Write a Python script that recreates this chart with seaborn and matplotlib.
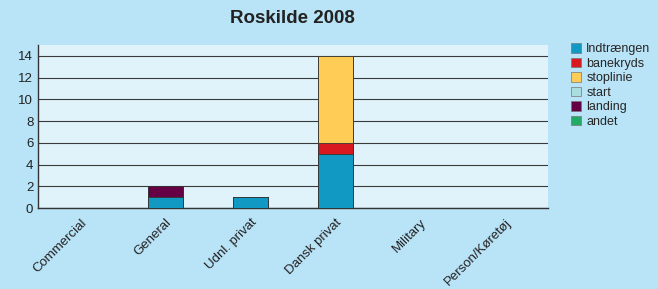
import numpy as np
import pandas as pd
import matplotlib
matplotlib.use("Agg")
import matplotlib.pyplot as plt
import matplotlib.transforms as mtransforms
from matplotlib.patches import Patch
import seaborn as sns

categories = ["Commercial", "General", "Udnl. privat", "Dansk privat", "Military", "Person/Køretøj"]
series_names = ["Indtrængen", "banekryds", "stoplinie", "start", "landing", "andet"]
indtraengen = [0, 1, 1, 5, 0, 0]
banekryds = [0, 0, 0, 1, 0, 0]
stoplinie = [0, 0, 0, 8, 0, 0]
start = [0, 0, 0, 0, 0, 0]
landing = [0, 1, 0, 0, 0, 0]
andet = [0, 0, 0, 0, 0, 0]

colors = ["#1199C4", "#D81920", "#FFCC55", "#AADDDD", "#660044", "#22AA66"]

sns.set_style("white")
plt.rcParams["font.family"] = ["Liberation Sans", "DejaVu Sans"]

df = pd.DataFrame({"category": categories, "Indtrængen": indtraengen,
                   "banekryds": banekryds, "stoplinie": stoplinie,
                   "start": start, "landing": landing, "andet": andet})
cum = df[series_names].cumsum(axis=1)

fig = plt.figure(figsize=(6.58, 2.89), dpi=100)
fig.patch.set_facecolor("#B9E3F7")
ax = fig.add_axes([0.058, 0.280, 0.775, 0.564])
ax.set_facecolor("#E0F3FB")

# stacked bars: draw cumulative totals from the top series down
for name, col in reversed(list(zip(series_names, colors))):
    sns.barplot(x=df["category"], y=cum[name], color=col, saturation=1, width=0.41,
                edgecolor="#333333", linewidth=0.6, ax=ax, zorder=3)

ax.set_ylim(0, 15)
ax.set_yticks(range(0, 15, 2))
ax.set_xlim(-0.5, len(categories) - 0.5)
ax.grid(axis="y", color="#3a3a3a", linewidth=0.8, zorder=0)
ax.set_axisbelow(True)
for s in ["top", "right"]:
    ax.spines[s].set_visible(False)
for s in ["left", "bottom"]:
    ax.spines[s].set_color("#333333")
    ax.spines[s].set_linewidth(1.0)

ax.set_xticks(range(len(categories)))
ax.set_xticklabels(categories, rotation=45, ha="right", rotation_mode="anchor", fontsize=9.5, color="#222222")
shift = mtransforms.ScaledTranslation(-4 / 100, -2 / 100, fig.dpi_scale_trans)
for lbl in ax.get_xticklabels():
    lbl.set_transform(lbl.get_transform() + shift)
ax.set_xticks(np.arange(-0.5, len(categories)), minor=True)
ax.tick_params(axis="x", which="major", length=0, pad=6)
ax.tick_params(axis="x", which="minor", length=4, width=1, color="#333333", direction="out")
ax.tick_params(axis="y", length=5, width=1, color="#333333", direction="inout", labelsize=9.5,
               labelcolor="#222222", pad=1)
ax.set_xlabel("")
ax.set_ylabel("")

fig.text(0.445, 0.935, "Roskilde 2008", ha="center", va="center", fontsize=13.5, fontweight="bold", color="#222222")

handles = [Patch(facecolor=c, edgecolor="#777777", linewidth=0.5) for c in colors]
fig.legend(handles, series_names, loc="upper left", bbox_to_anchor=(0.868, 0.85), frameon=False,
           fontsize=9, handlelength=0.75, handleheight=0.75, handletextpad=0.45, labelspacing=0.2,
           borderpad=0, borderaxespad=0)

fig.savefig("out.png", dpi=100, facecolor=fig.get_facecolor())
